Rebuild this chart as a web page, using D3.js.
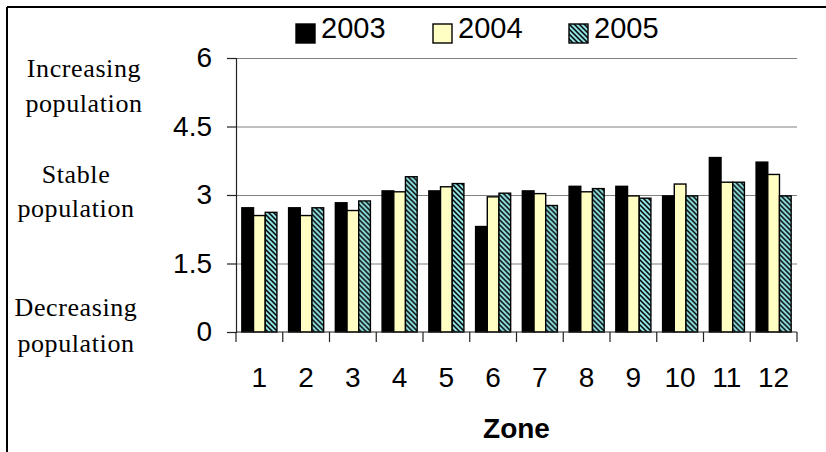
<!DOCTYPE html>
<html>
<head>
<meta charset="utf-8">
<script src="https://cdn.jsdelivr.net/npm/d3@7"></script>
<style>
  html, body { margin: 0; padding: 0; background: #fff; }
  svg { display: block; }
</style>
</head>
<body>
<svg id="chart" width="826" height="452"></svg>
<script>
// Population index per zone, three survey years
const zones = ["1", "2", "3", "4", "5", "6", "7", "8", "9", "10", "11", "12"];
const years = ["2003", "2004", "2005"];
const values2003 = [2.72, 2.72, 2.83, 3.09, 3.09, 2.31, 3.09, 3.19, 3.19, 2.98, 3.82, 3.72];
const values2004 = [2.55, 2.55, 2.66, 3.07, 3.18, 2.96, 3.03, 3.07, 2.98, 3.24, 3.28, 3.45];
const values2005 = [2.62, 2.72, 2.87, 3.40, 3.25, 3.04, 2.77, 3.14, 2.93, 2.98, 3.28, 2.98];
const yTicks = [0, 1.5, 3, 4.5, 6];
const sideLabels = [
  ["Increasing", "population"],
  ["Stable", "population"],
  ["Decreasing", "population"]
];
const axisTitle = "Zone";

const seriesValues = { "2003": values2003, "2004": values2004, "2005": values2005 };

const svg = d3.select("#chart");
const plot = { left: 236, right: 797, top: 58, bottom: 332 };

// hatch pattern for the 2005 bars (downward diagonal stripes)
const defs = svg.append("defs");
const pat = defs.append("pattern")
  .attr("id", "hatch")
  .attr("patternUnits", "userSpaceOnUse")
  .attr("width", 5).attr("height", 5);
pat.append("rect").attr("width", 5).attr("height", 5).attr("fill", "#8fe0e0");
pat.append("path")
  .attr("d", "M-1,-1 L6,6 M-1,4 L1,6 M4,-1 L6,1")
  .attr("stroke", "#000").attr("stroke-width", 1.5);

const fills = { "2003": "#000", "2004": "#ffffc4", "2005": "url(#hatch)" };

// frame edges
svg.append("line").attr("x1", 7).attr("x2", 826).attr("y1", 7).attr("y2", 7)
  .attr("stroke", "#000").attr("stroke-width", 2);
svg.append("line").attr("x1", 7).attr("x2", 7).attr("y1", 7).attr("y2", 452)
  .attr("stroke", "#000").attr("stroke-width", 2);

// scales
const x0 = d3.scaleBand().domain(zones).range([plot.left, plot.right]).padding(0);
const x1 = d3.scaleBand().domain(years).range([0, x0.bandwidth()])
  .paddingInner(0).paddingOuter(0.5);
const y = d3.scaleLinear().domain([0, 6]).range([plot.bottom, plot.top]);

// gridlines
const grid = svg.append("g")
  .attr("transform", `translate(${plot.left},0)`)
  .call(d3.axisLeft(y).tickValues(yTicks.filter(d => d > 0))
    .tickSize(-(plot.right - plot.left)).tickFormat(""));
grid.select(".domain").remove();
grid.selectAll(".tick line").attr("stroke", "#808080").attr("stroke-width", 1.2);

// bars
const groups = svg.append("g").selectAll("g")
  .data(zones)
  .join("g")
  .attr("transform", d => `translate(${x0(d)},0)`);

groups.selectAll("rect")
  .data((z, i) => years.map(yr => ({ year: yr, value: seriesValues[yr][i] })))
  .join("rect")
  .attr("x", d => x1(d.year))
  .attr("width", x1.bandwidth())
  .attr("y", d => y(d.value))
  .attr("height", d => y(0) - y(d.value))
  .attr("fill", d => fills[d.year])
  .attr("stroke", "#000")
  .attr("stroke-width", 1.4);

// y axis
const yAxis = svg.append("g")
  .attr("transform", `translate(${plot.left},0)`)
  .call(d3.axisLeft(y).tickValues(yTicks).tickSize(9).tickPadding(15)
    .tickFormat(d3.format("")));
yAxis.select(".domain").attr("stroke", "#222").attr("stroke-width", 1.2);
yAxis.selectAll(".tick line").attr("stroke", "#222").attr("stroke-width", 1.2);
yAxis.selectAll("text")
  .attr("font-family", "'Liberation Sans', Arial, sans-serif")
  .attr("font-size", 28).attr("fill", "#000");

// x axis: labels centred on each zone, ticks at zone boundaries
const xAxis = svg.append("g")
  .attr("transform", `translate(0,${plot.bottom})`)
  .call(d3.axisBottom(x0).tickSize(0).tickPadding(35));
xAxis.select(".domain").remove();
xAxis.selectAll("text")
  .attr("font-family", "'Liberation Sans', Arial, sans-serif")
  .attr("font-size", 28).attr("fill", "#000");

const bounds = zones.map(z => x0(z)).concat([x0(zones[zones.length - 1]) + x0.bandwidth()]);
svg.append("line")
  .attr("x1", plot.left).attr("x2", plot.right)
  .attr("y1", y(0)).attr("y2", y(0))
  .attr("stroke", "#222").attr("stroke-width", 1.2);
svg.append("g").selectAll("line")
  .data(bounds)
  .join("line")
  .attr("x1", d => d).attr("x2", d => d)
  .attr("y1", y(0)).attr("y2", y(0) + 10)
  .attr("stroke", "#222").attr("stroke-width", 1.2);

svg.append("text")
  .attr("x", (plot.left + plot.right) / 2)
  .attr("y", 438)
  .attr("text-anchor", "middle")
  .attr("font-family", "'Liberation Sans', Arial, sans-serif")
  .attr("font-size", 28).attr("font-weight", "bold")
  .text(axisTitle);

// descriptive labels beside the value axis
const sideLayout = [
  { cx: 84, base: [77, 112] },
  { cx: 76, base: [183, 217] },
  { cx: 76, base: [316, 352] }
];
sideLabels.forEach((lines, i) => {
  lines.forEach((t, j) => {
    svg.append("text")
      .attr("x", sideLayout[i].cx)
      .attr("y", sideLayout[i].base[j])
      .attr("text-anchor", "middle")
      .attr("font-family", "'Liberation Serif', 'Times New Roman', serif")
      .attr("font-size", 26)
      .attr("letter-spacing", 0.6)
      .text(t);
  });
});

// legend
const legendX = [296, 433, 569];
const legend = svg.append("g").selectAll("g")
  .data(years)
  .join("g")
  .attr("transform", (d, i) => `translate(${legendX[i]},24)`);
legend.append("rect")
  .attr("width", 19).attr("height", 19)
  .attr("fill", d => fills[d])
  .attr("stroke", "#000").attr("stroke-width", 1.4);
legend.append("text")
  .attr("x", 25).attr("y", 14)
  .attr("font-family", "'Liberation Sans', Arial, sans-serif")
  .attr("font-size", 29)
  .text(d => d);
</script>
</body>
</html>
